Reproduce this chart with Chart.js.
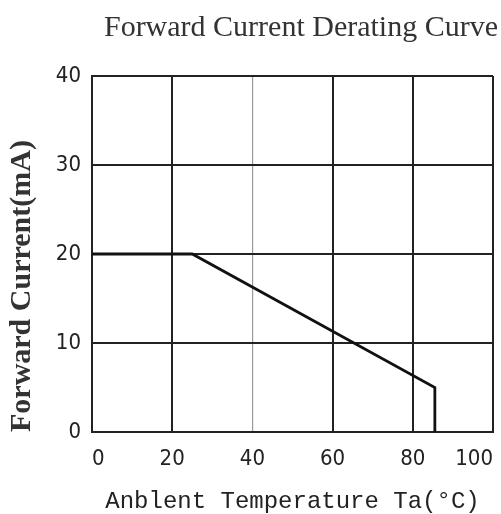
<!DOCTYPE html>
<html>
<head>
<meta charset="utf-8">
<script src="https://cdn.jsdelivr.net/npm/chart.js@4/dist/chart.umd.min.js"></script>
<style>
  html, body { margin: 0; padding: 0; background: #fff; }
  #wrap { width: 501px; height: 514px; position: relative; }
</style>
</head>
<body>
<div id="wrap"><canvas id="c"></canvas></div>
<script>
// Data
const temperatures = [0, 25, 85.5, 85.5];          // Ambient temperature (°C)
const currents     = [20, 20, 5, 0];               // Forward current (mA)
const xTicks = [0, 20, 40, 60, 80, 100];
const yTicks = [0, 10, 20, 30, 40];
const chartTitle = 'Forward Current Derating Curve';
const xTitle = 'Anblent Temperature Ta(°C)';
const yTitle = 'Forward Current(mA)';

const points = temperatures.map((t, i) => ({ x: t, y: currents[i] }));

const LEFT_EDGE = 92, BOTTOM_H = 82;

new Chart(document.getElementById('c'), {
  type: 'line',
  data: {
    datasets: [{
      data: points,
      borderColor: '#111',
      borderWidth: 2.8,
      pointRadius: 0,
      fill: false,
      tension: 0
    }]
  },
  options: {
    responsive: true,
    maintainAspectRatio: false,
    animation: false,
    layout: { padding: { left: 0, right: 3, top: 0, bottom: 0 } },
    plugins: {
      legend: { display: false },
      tooltip: { enabled: false },
      title: {
        display: true,
        text: chartTitle,
        align: 'end',
        color: '#333',
        font: { family: "'Liberation Serif', 'Times New Roman', serif", size: 30, weight: 'normal', lineHeight: 1.2 },
        padding: { top: 10, bottom: 30 }
      }
    },
    scales: {
      x: {
        type: 'linear',
        min: 0, max: 100,
        afterBuildTicks: s => { s.ticks = xTicks.map(v => ({ value: v })); },
        afterFit: s => { s.height = BOTTOM_H; },
        border: { display: true, color: '#222', width: 2 },
        grid: {
          drawTicks: true,
          tickLength: 6,
          tickColor: 'rgba(0,0,0,0)',
          color: c => (c.tick && c.tick.value === 40) ? '#9a9a9a' : '#222',
          lineWidth: c => (c.tick && c.tick.value === 40) ? 1.2 : 2
        },
        ticks: {
          align: 'inner',
          padding: 8,
          color: '#222',
          font: { family: "'DejaVu Sans Condensed', 'Liberation Sans Narrow', sans-serif", size: 22 }
        },
        title: {
          display: true,
          text: xTitle,
          color: '#222',
          font: { family: "'Liberation Mono', 'DejaVu Sans Mono', monospace", size: 24, lineHeight: 1 },
          padding: { top: 0, bottom: 0 }
        }
      },
      y: {
        type: 'linear',
        min: 0, max: 40,
        afterBuildTicks: s => { s.ticks = yTicks.map(v => ({ value: v })); },
        afterFit: s => { s.width = LEFT_EDGE; },
        border: { display: true, color: '#222', width: 2 },
        grid: { drawTicks: false, color: '#222', lineWidth: 2 },
        ticks: {
          padding: 11,
          color: '#222',
          font: { family: "'DejaVu Sans Condensed', 'Liberation Sans Narrow', sans-serif", size: 22 }
        },
        title: {
          display: true,
          text: yTitle,
          align: 'start',
          color: '#333',
          font: { family: "'Liberation Serif', 'Times New Roman', serif", size: 30, weight: 'bold', lineHeight: 1 },
          padding: { top: 7, bottom: 0 }
        }
      }
    }
  }
});
</script>
</body>
</html>
